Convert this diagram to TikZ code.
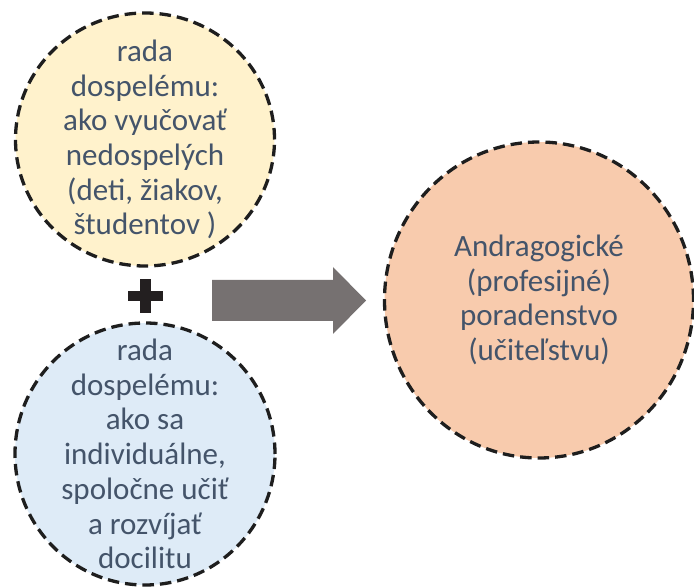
\documentclass[tikz,border=0pt]{standalone}
\usepackage{fontspec}
\setmainfont{Carlito}
\usetikzlibrary{shapes.geometric}
\definecolor{txtslate}{HTML}{44546A}
\definecolor{goldfill}{HTML}{FFF2CC}
\definecolor{bluefill}{HTML}{DEEBF7}
\definecolor{peachfill}{HTML}{F8CBAD}
\definecolor{arrowgray}{HTML}{767171}
\definecolor{rimblack}{HTML}{1E1E1E}
\definecolor{plusblack}{HTML}{231F20}
\tikzset{
  bubble/.style={ellipse, draw=rimblack, line width=3.3pt,
    dash pattern=on 11.5pt off 6pt, inner sep=0pt},
  bubbletext/.style={text=txtslate, align=center, inner sep=0pt,
    font=\fontsize{31}{34.7}\selectfont},
}
\begin{document}
\begin{tikzpicture}[x=1pt, y=-1pt]
\useasboundingbox (0,0) rectangle (694,588);

% the three circles
\node[bubble, fill=goldfill, minimum width=259pt, minimum height=253pt] (adult) at (145,139.5) {};
\node[bubble, fill=bluefill, minimum width=260pt, minimum height=262pt] (learn) at (145,454) {};
\node[bubble, fill=peachfill, minimum width=309pt, minimum height=316pt] (couns) at (539,300) {};

% circle captions
\node[bubbletext] (adultT) at (adult.center) {rada\\dospelému:\\ako vyučovať\\nedospelých\\(deti, žiakov,\\študentov )};
\node[bubbletext] (learnT) at (learn.center) {rada\\dospelému:\\ako sa\\individuálne,\\spoločne učiť\\a rozvíjať\\docilitu};
\node[bubbletext] (counsT) at (couns.center) {Andragogické\\(profesijné)\\poradenstvo\\(učiteľstvu)};

% plus sign between the two left circles
\coordinate (plus) at (145.5,296.5);
\fill[plusblack] ([xshift=-5.5pt,yshift=17pt]plus) rectangle ([xshift=5.5pt,yshift=-17pt]plus);
\fill[plusblack] ([xshift=-17.5pt,yshift=5pt]plus) rectangle ([xshift=17.5pt,yshift=-5pt]plus);

% block arrow towards the counselling circle
\fill[arrowgray] (212,280) -- (333,280) -- (333,267) -- (366,300.5)
  -- (333,334) -- (333,321) -- (212,321) -- cycle;
\end{tikzpicture}
\end{document}
